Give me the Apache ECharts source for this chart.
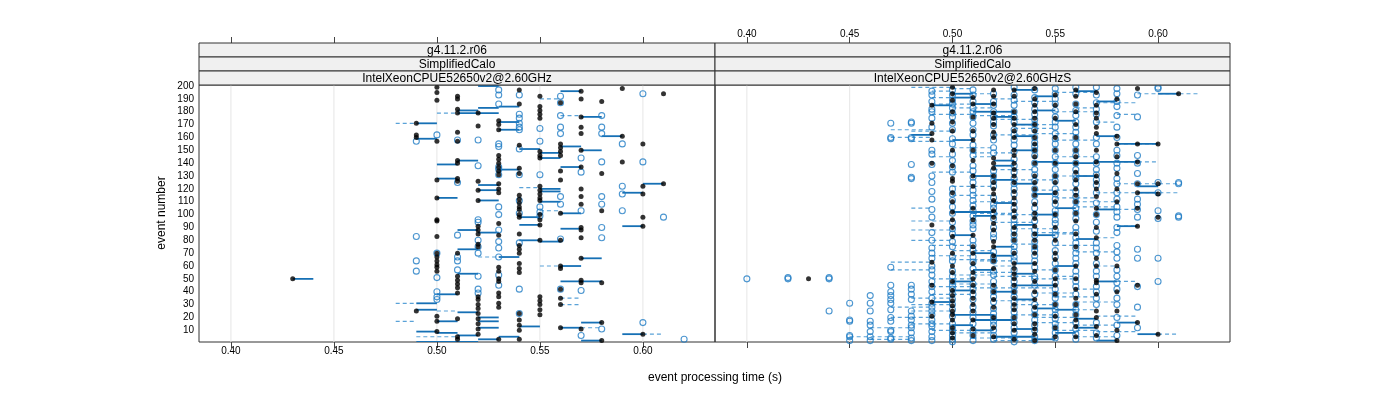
<!DOCTYPE html>
<html><head><meta charset="utf-8">
<script src="https://cdn.jsdelivr.net/npm/echarts@6/dist/echarts.min.js"></script>
<style>html,body{margin:0;padding:0;background:#fff}#c{width:1400px;height:400px}</style>
</head><body><div id="c"></div>
<script>
// ---- tick labels / text ----
const xTicks = [0.40, 0.45, 0.50, 0.55, 0.60];
const yTicks = [10,20,30,40,50,60,70,80,90,100,110,120,130,140,150,160,170,180,190,200];
const stripRow1 = 'g4.11.2.r06';
const stripRow2 = 'SimplifiedCalo';
const panelNames = ['IntelXeonCPUE52650v2@2.60GHz', 'IntelXeonCPUE52650v2@2.60GHzS'];
const xTitle = 'event processing time (s)';
const yTitle = 'event number';

// ---- data: [time in 1/100 s, event number]; segments: [from, to, event] ----
const L_black = [[50,199],[50,195],[50,189],[51,192],[51,190],[54,197],[55,192],[54,186],[51,182],[51,179],[52,179],[55,184],[55,181],[55,178],[55,175],[53,173],[53,170],[53,166],[49,171],[52,169],[49,162],[49,160],[50,157],[51,164],[51,157],[54,154],[55,149],[55,146],[55,144],[51,142],[51,140],[53,146],[53,143],[53,140],[53,137],[53,134],[53,131],[54,136],[54,132],[50,127],[51,128],[51,126],[52,126],[55,122],[55,119],[55,116],[55,113],[55,111],[52,119],[52,111],[50,113],[53,124],[53,120],[53,117],[54,115],[54,112],[54,109],[54,106],[54,104],[54,98],[50,96],
[57,196],[59,198],[61,194],[57,190],[56,187],[58,188],[57,176],[57,168],[57,163],[59,161],[60,155],[56,155],[56,152],[56,149],[56,146],[57,150],[59,141],[56,134],[57,137],[58,132],[56,127],[60,122],[61,124],[60,116],[57,120],[57,114],[57,108],[58,103],[56,101],[60,98],
[50,95],[50,83],[54,100],[55,100],[55,96],[55,92],[52,91],[52,88],[52,85],[52,77],[52,75],[53,93],[53,84],[54,85],[55,80],[54,76],[54,73],[54,70],[50,70],[50,67],[50,64],[50,61],[50,59],[50,56],[51,70],[51,52],[51,49],[51,46],[51,43],[51,39],[52,36],[52,34],[53,59],[53,56],[53,50],[53,48],[53,39],[53,36],[53,31],[53,28],[54,62],[54,58],[54,55],[49,25],[50,21],[50,17],[51,19],[50,9],[51,5],[51,3],[52,30],[52,27],[52,23],[52,19],[52,15],[52,11],[52,7],[53,3],[54,3],[54,23],[54,18],[54,14],[54,10],[55,36],[55,33],[55,30],[55,26],[55,22],[43,50],
[60,91],[57,90],[57,88],[56,80],[57,82],[57,66],[56,60],[56,58],[57,49],[57,47],[58,47],[56,42],[56,35],[56,30],[58,16],[56,12],[57,11],[60,7],[58,2]];
const L_blue = [[53,197],[53,193],[54,193],[53,186],[54,178],[54,175],[54,171],[54,168],[54,166],[55,167],[50,162],[49,157],[51,158],[52,158],[55,157],[53,155],[53,153],[54,151],[52,138],[53,137],[53,135],[53,131],[54,131],[55,131],[51,125],[54,111],[53,106],[53,100],[52,96],[55,106],[55,102],[55,99],
[60,194],[56,192],[56,187],[56,177],[58,177],[56,168],[58,168],[56,163],[58,163],[59,155],[57,144],[58,141],[60,141],[57,133],[59,122],[59,116],[56,114],[58,114],[56,108],[58,108],[57,103],[59,103],[61,98],
[54,101],[49,83],[51,84],[52,94],[52,80],[52,75],[52,70],[53,88],[53,79],[53,74],[53,67],[54,78],[49,64],[49,56],[50,70],[50,51],[51,67],[51,64],[51,57],[52,52],[52,42],[52,39],[50,40],[50,36],[50,34],[53,53],[53,45],[54,42],[54,23],
[58,90],[56,81],[58,82],[57,41],[56,42],[60,16],[58,11],[57,6],[62,3]];
const L_solid = [[52,53,200],[52,53,183],[53,54,184],[51,52,181],[51,53,179],[53,54,172],[53,54,166],[49,50,171],[49,50,159],[54,55,151],[55,56,148],[55,56,144],[50,51,139],[51,52,142],[53,54,135],[50,51,128],[52,53,123],[52,53,119],[52,53,111],[50,51,113],[54,55,98],
[56,57,196],[57,58,176],[58,59,161],[56,57,153],[57,58,150],[56,57,137],[60,61,124],[59,60,117],[55,56,120],[55,56,118],[55,56,110],[56,57,101],
[54,55,92],[51,52,88],[51,52,73],[52,53,86],[54,55,80],[53,54,67],[51,52,54],[50,51,38],[49,50,31],[49,50,26],[51,52,24],[50,51,17],[49,50,9],[50,51,8],[49,52,1],[51,52,6],[52,53,20],[52,53,17],[52,53,12],[52,53,3],[53,54,5],[54,55,13],
[59,60,91],[56,57,89],[55,56,79],[57,58,66],[56,57,60],[56,58,48],[57,58,16],[56,57,12],[59,60,7],[57,58,2],[43,44,50]];
const L_dash = [[50,51,179],[48,49,171],[54,55,121],[55,56,190],[56,57,177],[55,56,103],[52,53,67],[50,51,25],[48,49,31],[48,49,17],[49,51,5],[55,56,60],[56,57,35],[56,57,30],[57,58,12],[60,61,7]];

const R_black = [[43,50],
[49,171],[49,163],[49,158],[49,63],[49,32],[49,21],[49,185],[49,140],[49,92],[49,45],
[50,199],[50,194],[50,189],[50,150],[50,128],[50,126],[50,110],[50,96],[50,83],[50,70],[50,60],[50,41],[50,37],[50,33],[50,29],[50,25],[50,22],[50,18],[50,8],[50,4],[50,180],[50,172],[50,165],[50,138],[50,117],[50,102],[50,90],[50,55],[50,48],[50,12],
[51,191],[51,158],[51,142],[51,84],[51,75],[51,70],[51,50],[51,45],[51,40],[51,35],[51,30],[51,18],[51,11],[51,186],[51,176],[51,165],[51,150],[51,130],[51,122],[51,105],[51,96],[51,62],[51,55],[51,25],[51,6],
[52,197],[52,179],[52,175],[52,170],[52,144],[52,140],[52,136],[52,120],[52,116],[52,111],[52,93],[52,88],[52,79],[52,75],[52,58],[52,20],[52,5],[52,192],[52,186],[52,164],[52,160],[52,130],[52,125],[52,103],[52,98],[52,68],[52,64],[52,45],[52,40],[52,34],[52,28],[52,12],
[53,197],[53,150],[53,146],[53,140],[53,135],[53,130],[53,125],[53,118],[53,113],[53,108],[53,103],[53,98],[53,62],[53,58],[53,54],[53,45],[53,26],[53,15],[53,3],[53,192],[53,180],[53,175],[53,170],[53,165],[53,160],[53,90],[53,85],[53,80],[53,70],[53,50],[53,40],[53,35],[53,30],[53,20],[53,10],
[54,190],[54,185],[54,175],[54,165],[54,155],[54,145],[54,130],[54,108],[54,101],[54,91],[54,62],[54,56],[54,48],[54,40],[54,34],[54,7],[54,198],[54,180],[54,170],[54,160],[54,150],[54,140],[54,125],[54,120],[54,115],[54,97],[54,85],[54,80],[54,75],[54,70],[54,28],[54,22],[54,15],[54,11],[54,2],
[55,193],[55,160],[55,140],[55,125],[55,110],[55,80],[55,57],[55,45],[55,38],[55,21],[55,185],[55,175],[55,150],[55,130],[55,117],[55,100],[55,90],[55,70],[55,65],[55,50],[55,30],[55,12],[55,5],
[56,197],[56,192],[56,186],[56,150],[56,145],[56,140],[56,133],[56,127],[56,101],[56,60],[56,42],[56,35],[56,30],[56,22],[56,13],[56,180],[56,170],[56,160],[56,120],[56,115],[56,110],[56,95],[56,85],[56,75],[56,50],[56,18],[56,5],
[57,179],[57,175],[57,168],[57,163],[57,150],[57,141],[57,114],[57,105],[57,100],[57,90],[57,82],[57,66],[57,49],[57,47],[57,13],[57,195],[57,185],[57,130],[57,125],[57,120],[57,60],[57,38],[57,25],[57,20],[57,6],
[58,161],[58,132],[58,2],[58,190],[58,155],[58,145],[58,120],[58,110],[58,60],[58,40],[58,25],[58,10],
[59,198],[59,155],[59,141],[59,117],[59,91],[59,16],[59,124],[59,105],[59,45],[60,124],[60,98],[60,7],[60,155],[60,116],[61,194]];
const R_blue = [[40,50],[42,50],[42,51],[44,50],[44,51],[44,25],
[45,31],[45,17],[45,18],[45,5],[45,6],[45,2],
[46,37],[46,31],[46,25],[46,17],[46,14],[46,9],[46,5],[46,2],
[47,171],[47,159],[47,160],[47,59],[47,45],[47,40],[47,37],[47,34],[47,31],[47,26],[47,20],[47,17],[47,10],[47,9],[47,4],[47,3],
[48,171],[48,172],[48,159],[48,160],[48,139],[48,128],[48,129],[48,45],[48,42],[48,38],[48,34],[48,25],[48,21],[48,18],[48,14],[48,12],[48,8],[48,4],[48,2],
[49,182],[49,180],[49,139],[49,60],[49,57],[49,53],[49,44],[49,40],[49,35],[49,28],[49,25],[49,22],[49,18],[49,15],[49,13],[49,5],[49,196],[49,193],[49,188],[49,175],[49,168],[49,150],[49,147],[49,130],[49,125],[49,118],[49,112],[49,104],[49,98],[49,86],[49,80],[49,74],[49,70],[49,66],[49,48],[49,31],[49,9],[49,2],
[50,189],[50,183],[50,179],[50,171],[50,159],[50,142],[50,111],[50,89],[50,64],[50,45],[50,42],[50,38],[50,34],[50,30],[50,26],[50,12],[50,9],[50,6],[50,3],[50,1],[50,197],[50,193],[50,186],[50,176],[50,166],[50,155],[50,147],[50,137],[50,133],[50,120],[50,116],[50,106],[50,101],[50,94],[50,85],[50,79],[50,75],[50,67],[50,56],[50,52],[50,48],[50,21],[50,15],
[51,183],[51,180],[51,171],[51,138],[51,134],[51,119],[51,111],[51,89],[51,63],[51,58],[51,52],[51,46],[51,38],[51,28],[51,24],[51,20],[51,15],[51,10],[51,6],[51,2],[51,197],[51,193],[51,188],[51,176],[51,166],[51,162],[51,154],[51,150],[51,146],[51,129],[51,125],[51,115],[51,107],[51,103],[51,99],[51,95],[51,92],[51,80],[51,76],[51,72],[51,67],[51,42],[51,34],
[52,185],[52,180],[52,169],[52,148],[52,130],[52,105],[52,64],[52,53],[52,48],[52,44],[52,40],[52,36],[52,32],[52,27],[52,17],[52,14],[52,10],[52,6],[52,3],[52,194],[52,188],[52,176],[52,172],[52,162],[52,158],[52,152],[52,134],[52,126],[52,122],[52,113],[52,108],[52,101],[52,97],[52,90],[52,85],[52,82],[52,71],[52,67],[52,56],[52,23],[52,20],
[53,185],[53,154],[53,149],[53,128],[53,124],[53,120],[53,116],[53,110],[53,105],[53,100],[53,92],[53,88],[53,84],[53,80],[53,75],[53,48],[53,44],[53,40],[53,36],[53,32],[53,28],[53,24],[53,20],[53,16],[53,12],[53,8],[53,4],[53,199],[53,193],[53,189],[53,180],[53,176],[53,172],[53,166],[53,162],[53,158],[53,143],[53,138],[53,133],[53,96],[53,71],[53,67],[53,64],[53,57],[53,52],[53,1],
[54,191],[54,182],[54,178],[54,170],[54,160],[54,150],[54,140],[54,120],[54,115],[54,110],[54,100],[54,95],[54,52],[54,50],[54,18],[54,14],[54,10],[54,197],[54,187],[54,174],[54,166],[54,156],[54,153],[54,146],[54,135],[54,131],[54,126],[54,105],[54,88],[54,84],[54,79],[54,75],[54,72],[54,68],[54,64],[54,59],[54,45],[54,38],[54,30],[54,26],[54,22],[54,5],[54,2],
[55,198],[55,186],[55,176],[55,168],[55,155],[55,150],[55,145],[55,135],[55,120],[55,103],[55,100],[55,96],[55,93],[55,88],[55,84],[55,78],[55,72],[55,67],[55,47],[55,35],[55,15],[55,12],[55,8],[55,194],[55,190],[55,181],[55,172],[55,163],[55,159],[55,140],[55,130],[55,126],[55,116],[55,112],[55,108],[55,62],[55,57],[55,52],[55,42],[55,38],[55,30],[55,26],[55,22],[55,19],[55,4],
[56,199],[56,177],[56,168],[56,160],[56,155],[56,131],[56,124],[56,118],[56,110],[56,97],[56,90],[56,82],[56,66],[56,48],[56,16],[56,7],[56,194],[56,186],[56,181],[56,172],[56,164],[56,150],[56,146],[56,140],[56,135],[56,128],[56,114],[56,105],[56,101],[56,86],[56,78],[56,74],[56,70],[56,62],[56,56],[56,52],[56,44],[56,38],[56,30],[56,26],[56,22],[56,11],[56,3],
[57,199],[57,187],[57,155],[57,135],[57,131],[57,123],[57,109],[57,100],[57,35],[57,193],[57,182],[57,178],[57,172],[57,160],[57,145],[57,140],[57,127],[57,117],[57,94],[57,87],[57,78],[57,74],[57,70],[57,62],[57,56],[57,52],[57,44],[57,40],[57,30],[57,16],[57,8],[57,4],
[58,198],[58,194],[58,177],[58,168],[58,150],[58,124],[58,117],[58,98],[58,90],[58,66],[58,47],[58,35],[58,188],[58,184],[58,160],[58,146],[58,140],[58,136],[58,128],[58,112],[58,106],[58,102],[58,86],[58,76],[58,71],[58,57],[58,52],[58,42],[58,30],[58,20],[58,14],[58,6],
[59,132],[59,124],[59,108],[59,98],[59,193],[59,176],[59,146],[59,140],[59,112],[59,104],[59,73],[59,66],[59,44],[59,28],[59,12],
[60,198],[60,199],[60,117],[60,125],[60,103],[60,97],[60,66],[60,48],[61,124],[61,125],[61,98],[61,99]];
const R_solid = [[50,51,194],[50,51,191],[51,52,180],[52,53,180],[53,54,197],[54,55,192],[48,49,162],[50,51,158],[52,53,142],[52,53,138],[53,54,150],[56,57,196],[57,58,188],[57,58,161],[58,60,155],[57,59,141],[59,60,122],[59,60,117],[56,57,130],[57,58,104],[58,59,91],[56,57,81],[55,56,60],[57,58,48],[55,56,26],[56,57,12],[58,59,16],[59,60,7],[57,58,2],[50,51,84],[52,53,75],[51,52,70],[53,54,62],[49,50,32],[50,52,22],[51,53,18],[52,54,5],[50,51,41],[53,55,45],[54,55,100],[60,61,194],
[49,50,185],[51,52,186],[52,53,176],[53,54,170],[54,55,181],[55,56,173],[53,54,161],[54,55,141],[51,52,130],[52,53,127],[53,54,124],[54,55,116],[55,56,105],[51,52,99],[53,54,92],[54,55,84],[52,53,68],[53,54,54],[51,52,57],[50,51,48],[52,53,40],[53,54,34],[54,55,27],[50,51,14],[51,52,10],[53,54,11],[54,55,3],[55,56,8],[56,57,19],[50,52,102],[52,53,109],[55,57,140]];
const R_dash = [[49,50,196],[51,52,194],[49,50,191],[52,53,190],[47,49,160],[48,50,157],[51,52,145],[53,55,188],[55,57,195],[57,59,187],[58,60,155],[58,60,141],[58,61,124],[57,61,117],[57,59,104],[56,58,110],[55,57,145],[58,59,91],[58,59,48],[57,58,60],[57,58,82],[60,61,7],[56,57,26],[48,50,95],[48,50,88],[48,50,80],[47,49,63],[47,49,57],[49,51,68],[50,52,72],[52,54,100],[45,48,5],[46,48,3],[48,50,30],[48,50,25],[49,51,38],[53,55,30],[54,56,20],[55,57,130],[53,55,170],[50,52,122],[48,49,105],[49,50,145],[51,53,110],[52,53,60],[54,56,50],[55,56,85],[59,62,194],
[49,51,186],[50,52,183],[51,53,177],[52,54,174],[53,55,167],[54,56,163],[55,57,158],[50,52,152],[51,53,148],[52,54,135],[53,55,127],[54,56,119],[55,57,113],[56,58,106],[49,51,133],[50,52,115],[51,53,101],[52,54,94],[53,55,89],[54,56,86],[55,57,76],[56,58,71],[49,51,76],[50,52,65],[51,53,55],[52,54,52],[53,55,43],[54,56,39],[55,57,36],[49,51,50],[50,52,46],[51,53,43],[52,54,33],[53,55,22],[54,56,16],[55,57,10],[46,48,12],[47,49,20],[48,50,15],[49,51,10],[50,52,8],[51,53,4],[52,54,2],[47,49,28],[48,50,35],[49,51,44],[50,52,53],[51,53,64],[53,54,77],[54,55,57],[55,56,52],[56,57,42],[56,58,32],[57,59,21],[56,58,14],[56,58,5],[57,59,9],[57,58,172],[58,59,178],[55,57,180],[56,57,183],[52,54,162],[49,51,178],[48,50,199],[50,51,198],[47,49,166],[48,50,165]];

// ---- layout / style ----
const X_MIN = 0.3845, X_MAX = 0.635, Y_MIN = 0.9, Y_MAX = 200.8;
const PANEL_TOP = 85, PANEL_BOTTOM = 342;
const panelLeft = [199, 715], panelWidth = [516, 515];
const FONT = 'Liberation Sans, Arial, Helvetica, sans-serif';
const C_BLUE = '#1f7cc4', C_SOLID = '#1670b5', C_DASH = '#5aa2d8';

function pts(a) { return a.map(d => [d[0] / 100, d[1]]); }
function segs(a) { return a.map(d => [d[0] / 100, d[1] / 100, d[2]]); }

function segSeries(data, gi, dashed) {
  return {
    type: 'custom', xAxisIndex: gi * 2, yAxisIndex: gi, clip: true, silent: true,
    z: dashed ? 2 : 3,
    encode: { x: [0, 1], y: 2 },
    data: segs(data),
    renderItem: (p, api) => {
      const y = api.value(2);
      const a = api.coord([api.value(0), y]);
      const b = api.coord([api.value(1), y]);
      return { type: 'line', shape: { x1: a[0], y1: a[1], x2: b[0], y2: b[1] },
        style: dashed ? { stroke: C_DASH, lineWidth: 1.2, lineDash: [4, 3] }
                      : { stroke: C_SOLID, lineWidth: 1.8 } };
    }
  };
}
function gridSeries(gi) {
  return {
    type: 'custom', xAxisIndex: gi * 2, yAxisIndex: gi, silent: true, z: 1,
    encode: { x: 0, y: [1, 2] },
    data: xTicks.map(v => [v, Y_MIN, Y_MAX]),
    renderItem: (p, api) => {
      const a = api.coord([api.value(0), Y_MIN]);
      const b = api.coord([api.value(0), Y_MAX]);
      return { type: 'line', shape: { x1: a[0], y1: a[1], x2: b[0], y2: b[1] },
        style: { stroke: '#e6e6e6', lineWidth: 1 } };
    }
  };
}
function blueSeries(data, gi) {
  return { type: 'scatter', xAxisIndex: gi * 2, yAxisIndex: gi, silent: true, z: 4,
    symbol: 'circle', symbolSize: 6, data: pts(data),
    itemStyle: { color: 'rgba(0,0,0,0)', borderColor: C_BLUE, borderWidth: 1.1 } };
}
function blackSeries(data, gi) {
  return { type: 'scatter', xAxisIndex: gi * 2, yAxisIndex: gi, silent: true, z: 5,
    symbol: 'circle', symbolSize: 5, data: pts(data), itemStyle: { color: '#000' } };
}
function xAx(gi, pos, labels) {
  return {
    type: 'value', gridIndex: gi, position: pos, min: X_MIN, max: X_MAX,
    offset: pos === 'top' ? PANEL_TOP - 43 : 0,
    axisLine: { show: false }, splitLine: { show: false },
    axisTick: { show: true, length: 6, inside: false, customValues: xTicks, lineStyle: { color: '#444' } },
    axisLabel: { show: labels, customValues: xTicks, margin: 4, fontSize: 10, color: '#000', fontFamily: FONT,
      formatter: v => v.toFixed(2) }
  };
}
function yAx(gi, labels) {
  return {
    type: 'value', gridIndex: gi, min: Y_MIN, max: Y_MAX,
    axisLine: { show: false }, splitLine: { show: false },
    axisTick: { show: false },
    axisLabel: { show: labels, customValues: yTicks, margin: 5, fontSize: 10, color: '#000', fontFamily: FONT }
  };
}

const stripH = (PANEL_TOP - 43) / 3;
const graphics = [];
[0, 1].forEach(gi => {
  [stripRow1, stripRow2, panelNames[gi]].forEach((t, r) => {
    const top = 43 + r * stripH;
    graphics.push({ type: 'rect', shape: { x: panelLeft[gi], y: top, width: panelWidth[gi], height: stripH },
      style: { fill: '#f0f0f0', stroke: '#333', lineWidth: 1 }, z: 10 });
    graphics.push({ type: 'text', x: panelLeft[gi] + panelWidth[gi] / 2, y: top + stripH / 2 + 0.5,
      style: { text: t, fill: '#000', font: '12px ' + FONT, textAlign: 'center', textVerticalAlign: 'middle' }, z: 11 });
  });
});
graphics.push({ type: 'text', x: 715, y: 378, style: { text: xTitle, fill: '#000', font: '12px ' + FONT, textAlign: 'center', textVerticalAlign: 'middle' } });
graphics.push({ type: 'text', x: 162, y: 213, rotation: Math.PI / 2,
  style: { text: yTitle, fill: '#000', font: '12px ' + FONT, textAlign: 'center', textVerticalAlign: 'middle' } });

const chart = echarts.init(document.getElementById('c'), null, { renderer: 'canvas' });
chart.setOption({
  animation: false,
  backgroundColor: '#fff',
  grid: [0, 1].map(gi => ({ left: panelLeft[gi], top: PANEL_TOP, width: panelWidth[gi], height: PANEL_BOTTOM - PANEL_TOP,
    show: true, borderColor: '#333', borderWidth: 1, backgroundColor: 'transparent', containLabel: false })),
  xAxis: [xAx(0, 'bottom', true), xAx(0, 'top', false), xAx(1, 'bottom', false), xAx(1, 'top', true)],
  yAxis: [yAx(0, true), yAx(1, false)],
  graphic: graphics,
  series: [
    gridSeries(0), gridSeries(1),
    segSeries(L_dash, 0, true), segSeries(L_solid, 0, false),
    segSeries(R_dash, 1, true), segSeries(R_solid, 1, false),
    blueSeries(L_blue, 0), blueSeries(R_blue, 1),
    blackSeries(L_black, 0), blackSeries(R_black, 1)
  ]
});
</script></body></html>
